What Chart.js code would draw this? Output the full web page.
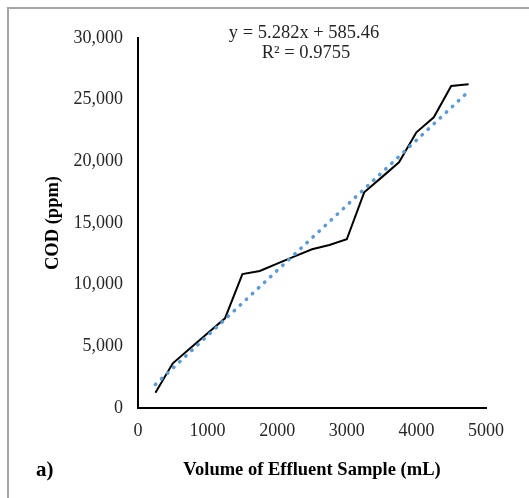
<!DOCTYPE html>
<html>
<head>
<meta charset="utf-8">
<script src="https://cdn.jsdelivr.net/npm/chart.js@4.4.1/dist/chart.umd.min.js"></script>
<style>
  html, body { margin: 0; padding: 0; background: #fff; }
  canvas { display: block; }
</style>
</head>
<body>
<canvas id="codChart" width="529" height="498"></canvas>
<script>
// volume of effluent sample (mL) and measured COD (ppm)
const volumes = [250, 500, 750, 1000, 1250, 1500, 1750, 2000, 2250, 2500,
  2750, 3000, 3250, 3500, 3750, 4000, 4250, 4500, 4750];
const codValues = [1240, 3620, 4840, 6060, 7270, 10860, 11110, 11700, 12290, 12870,
  13220, 13680, 17490, 18700, 19920, 22350, 23570, 26110, 26250];

// linear trendline end points (y = 5.282x + 585.46)
const trendX = [250, 4750];
const trendY = [1906, 25675];

const xTicks = [0, 1000, 2000, 3000, 4000, 5000];
const yTicks = [0, 5000, 10000, 15000, 20000, 25000, 30000];

const equationLines = ["y = 5.282x + 585.46", "R² = 0.9755"];
const panelLabel = "a)";

const serif = "'Liberation Serif', 'Times New Roman', serif";

const decorations = {
  id: "decorations",
  beforeDraw(chart) {
    const c = chart.ctx;
    c.save();
    c.fillStyle = "#a6a6a6";
    c.fillRect(7, 7, 522, 2);
    c.fillRect(7, 7, 2, 491);
    c.restore();
  },
  afterDraw(chart) {
    const c = chart.ctx;
    c.save();
    c.fillStyle = "#262626";
    c.font = "18.5px " + serif;
    c.textAlign = "center";
    c.textBaseline = "middle";
    c.fillText(equationLines[0], 304, 33);
    c.fillText(equationLines[1], 306, 53);
    c.fillStyle = "#000";
    c.font = "bold 21px " + serif;
    c.textAlign = "left";
    c.fillText(panelLabel, 36, 471);
    c.restore();
  }
};

new Chart(document.getElementById("codChart"), {
  type: "scatter",
  data: {
    datasets: [
      {
        label: "Linear trend",
        data: trendX.map((x, i) => ({ x, y: trendY[i] })),
        showLine: true,
        borderColor: "#5b9bd5",
        borderWidth: 3.5,
        borderDash: [0.5, 7.8],
        borderCapStyle: "round",
        pointRadius: 0,
        tension: 0
      },
      {
        label: "COD",
        data: volumes.map((x, i) => ({ x, y: codValues[i] })),
        showLine: true,
        borderColor: "#000",
        borderWidth: 2,
        pointRadius: 0,
        tension: 0
      }
    ]
  },
  options: {
    responsive: false,
    animation: false,
    layout: { padding: { top: 38, right: 43, left: 0, bottom: 0 } },
    plugins: {
      legend: { display: false },
      tooltip: { enabled: false }
    },
    scales: {
      x: {
        type: "linear",
        min: 0,
        max: 5000,
        afterFit: s => { s.height = 90; },
        afterBuildTicks: s => { s.ticks = xTicks.map(v => ({ value: v })); },
        grid: { display: false, drawTicks: false },
        border: { display: true, color: "#000", width: 2 },
        ticks: {
          padding: 12,
          color: "#262626",
          maxRotation: 0,
          font: { family: serif, size: 18 },
          callback: v => String(v)
        },
        title: {
          display: true,
          text: "Volume of Effluent Sample (mL)",
          color: "#000",
          font: { family: serif, size: 18.5, weight: "bold" },
          padding: { top: 0, bottom: 17 }
        }
      },
      y: {
        type: "linear",
        min: 0,
        max: 30000,
        afterFit: s => { s.width = 138; },
        afterBuildTicks: s => { s.ticks = yTicks.map(v => ({ value: v })); },
        grid: { display: false, drawTicks: false },
        border: { display: true, color: "#000", width: 2 },
        ticks: {
          padding: 15,
          color: "#262626",
          font: { family: serif, size: 18 },
          callback: v => v.toLocaleString("en-US")
        },
        title: {
          display: true,
          text: "COD (ppm)",
          color: "#000",
          font: { family: serif, size: 18.5, weight: "bold" },
          padding: { top: 42, bottom: 0 }
        }
      }
    }
  },
  plugins: [decorations]
});
</script>
</body>
</html>
